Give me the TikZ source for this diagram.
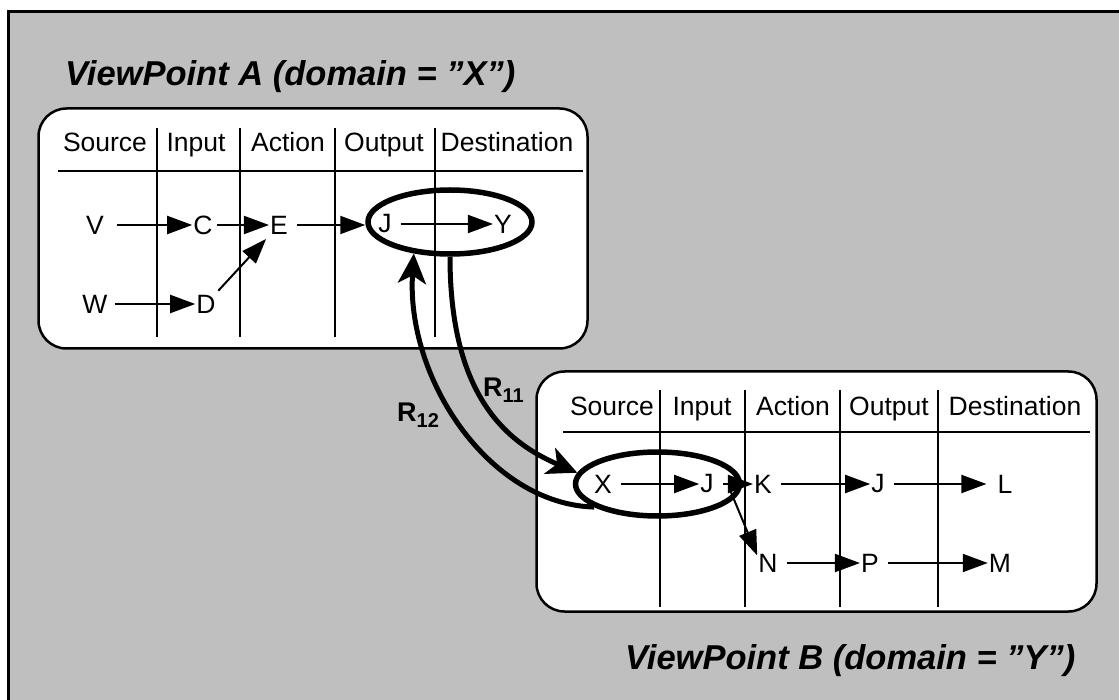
\documentclass[tikz,border=0pt]{standalone}
\usepackage{fontspec}
\setmainfont{Liberation Sans}
\usepackage{xcolor}
\usepackage{tikz}
\usetikzlibrary{arrows.meta,positioning,shapes.geometric}
\definecolor{panelgray}{HTML}{BFBFBF}
\definecolor{ink}{HTML}{000000}
\newcommand\hdrfont{\fontsize{26.5}{30}\selectfont}
\newcommand\vptitlefont{\fontsize{34.5}{38}\selectfont\bfseries\itshape}
\newcommand\relfont{\fontsize{27}{30}\selectfont\bfseries}
\newcommand\relsub[1]{\raisebox{-6pt}{\fontsize{20}{21}\selectfont\bfseries #1}}
\tikzset{
  panel/.style  ={draw=ink,line width=3pt,fill=panelgray},
  vpbox/.style  ={draw=ink,line width=2.5pt,fill=white,rounded corners=28pt},
  rule/.style   ={draw=ink,line width=2pt},
  hdr/.style    ={font=\hdrfont,anchor=base,inner sep=0pt},
  item/.style   ={font=\hdrfont,inner sep=1pt},
  ring/.style   ={draw=ink,ellipse,line width=5.5pt,minimum width=164pt,
                  minimum height=64pt,inner sep=0pt},
  flow/.style   ={-{Triangle[length=25pt,width=18pt]},line width=2pt,
                  draw=ink,shorten <=8pt},
  link/.style   ={-{Stealth[length=30pt,width=28pt,inset=8pt]},line width=5pt,
                  draw=ink},
  vptitle/.style={font=\vptitlefont,anchor=base west,inner sep=0pt},
  rel/.style    ={font=\relfont,anchor=base west,inner sep=0pt}
}
\begin{document}
\begin{tikzpicture}[x=1pt,y=-1pt]
  \useasboundingbox (0,0) rectangle (1119,700);
  \begin{scope}
    \clip (0,0) rectangle (1119,700);
    \path[panel] (8.5,11.5) rectangle (1130,712);
  \end{scope}

  % ViewPoint A
  \node[vptitle] (titleA) at (65,86) {ViewPoint A (domain = "X")};
  \path[vpbox] (38.5,108.5) rectangle (587.5,348.5);
  \draw[rule] (58,171) -- (583,171);
  \draw[rule] (157,128) -- (157,337);
  \draw[rule] (240,128) -- (240,337);
  \draw[rule] (335,128) -- (335,337);
  \draw[rule] (435,128) -- (435,337);
  \node[hdr] (srcA) at (105,152) {Source};
  \node[hdr] (inA)  at (196,152) {Input};
  \node[hdr] (actA) at (288,152) {Action};
  \node[hdr] (outA) at (384,152) {Output};
  \node[hdr] (dstA) at (507,152) {Destination};

  \node[item] (v)  at (95,225)  {V};
  \node[item] (c)  at (203,225) {C};
  \node[item] (e)  at (279,225) {E};
  \node[item] (ja) at (385,224) {J};
  \node[item] (y)  at (503,224) {Y};
  \node[item] (w)  at (95,304)  {W};
  \node[item] (d)  at (206,304) {D};
  \node[ring] (ellA) at (450,222) {};

  \draw[flow,shorten <=12pt] (v) -- (c);
  \draw[flow,shorten <=3pt] (c) -- (e);
  \draw[flow] (e) -- (e -| ellA.west);
  \draw[flow] (ja) -- (y);
  \draw[flow,shorten <=6pt] (w) -- (d);
  \draw[flow,shorten <=4pt,shorten >=5pt] (d) -- (e);

  % ViewPoint B
  \path[vpbox] (536.5,371.5) rectangle (1096.5,611.5);
  \draw[rule] (563,432) -- (1090,432);
  \draw[rule] (660,390) -- (660,607);
  \draw[rule] (745,390) -- (745,607);
  \draw[rule] (840,390) -- (840,607);
  \draw[rule] (938,390) -- (938,607);
  \node[hdr] (srcB) at (612,415)  {Source};
  \node[hdr] (inB)  at (702,415)  {Input};
  \node[hdr] (actB) at (793,415)  {Action};
  \node[hdr] (outB) at (889,415)  {Output};
  \node[hdr] (dstB) at (1015,415) {Destination};

  \node[item] (x)  at (603,484)  {X};
  \node[item] (jb) at (707,484)  {J};
  \node[item] (k)  at (763,484)  {K};
  \node[item] (jc) at (878,484)  {J};
  \node[item] (l)  at (1005,484) {L};
  \node[item] (n)  at (768,563)  {N};
  \node[item] (p)  at (870,563)  {P};
  \node[item] (m)  at (1000,563) {M};
  \node[ring] (ellB) at (657.5,484) {};

  \draw[flow] (x) -- (jb);
  \draw[flow] (jb) -- (k);
  \draw[flow] (k) -- (jc);
  \draw[flow,shorten >=10pt] (jc) -- (l);
  \draw[flow,shorten <=0pt] ([xshift=14pt,yshift=-3pt]jb.east) -- (n.145);
  \draw[flow] (n) -- (p);
  \draw[flow] (p) -- (m);
  \node[vptitle] (titleB) at (625,669) {ViewPoint B (domain = "Y")};

  % relationships between the two viewpoints
  \draw[link] (ellA.south) .. controls +(0,140) and +(-70,-30) .. (ellB.172);
  \draw[link] (ellB.200) .. controls +(-105,-3) and +(-8,125) .. (ellA.221);
  \node[rel] (r11) at (483,396) {R\relsub{11}};
  \node[rel] (r12) at (397,421) {R\relsub{12}};
\end{tikzpicture}
\end{document}
